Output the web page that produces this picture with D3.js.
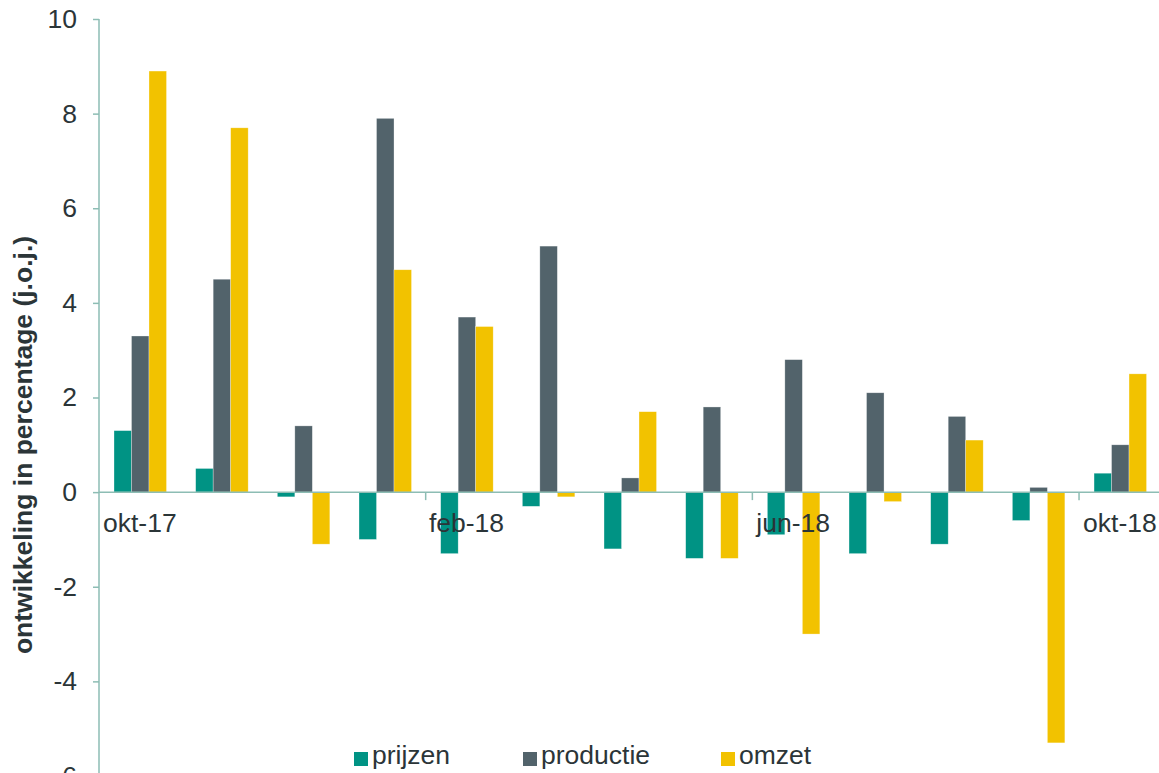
<!DOCTYPE html>
<html lang="nl">
<head>
<meta charset="UTF-8" />
<title>Ontwikkeling prijzen, productie en omzet</title>
<script src="https://cdn.jsdelivr.net/npm/d3@7"></script>
<style>
  body { margin: 0; background: #fff; }
  svg text { font-family: "Liberation Sans", Arial, sans-serif; fill: #2b3538; }
</style>
</head>
<body>
<svg id="chart" width="1159" height="773"></svg>
<script>
// data
let months = ["okt-17", "nov-17", "dec-17", "jan-18", "feb-18", "mrt-18", "apr-18",
  "mei-18", "jun-18", "jul-18", "aug-18", "sep-18", "okt-18"];
let prijzen = [1.3, 0.5, -0.1, -1.0, -1.3, -0.3, -1.2, -1.4, -0.9, -1.3, -1.1, -0.6, 0.4];
let productie = [3.3, 4.5, 1.4, 7.9, 3.7, 5.2, 0.3, 1.8, 2.8, 2.1, 1.6, 0.1, 1.0];
let omzet = [8.9, 7.7, -1.1, 4.7, 3.5, -0.1, 1.7, -1.4, -3.0, -0.2, 1.1, -5.3, 2.5];
let seriesNames = ["prijzen", "productie", "omzet"];
let colors = ["#009384", "#52636b", "#f2c200"];
let yTicks = [-6, -4, -2, 0, 2, 4, 6, 8, 10];
let labelledMonths = ["okt-17", "feb-18", "jun-18", "okt-18"];

let svg = d3.select("#chart");
let axisColor = "#8dbdb4";

let plotLeft = 99, plotTop = 19, plotBottom = 776;
let step = 81.67;

let x0 = d3.scaleBand().domain(months).range([plotLeft, plotLeft + step * months.length]);
let x1 = d3.scaleBand().domain(seriesNames).range([15, 67.5]);
let y = d3.scaleLinear().domain([-6, 10]).range([plotBottom, plotTop]);

let table = months.map(function (m, i) {
  return { month: m, values: [prijzen[i], productie[i], omzet[i]] };
});

// bars
let groups = svg.append("g")
  .selectAll("g")
  .data(table)
  .join("g")
  .attr("transform", d => "translate(" + x0(d.month) + ",0)");

groups.selectAll("rect")
  .data(d => d.values.map((v, j) => ({ name: seriesNames[j], value: v, color: colors[j] })))
  .join("rect")
  .attr("x", d => x1(d.name))
  .attr("width", x1.bandwidth())
  .attr("y", d => y(Math.max(0, d.value)))
  .attr("height", d => Math.abs(y(d.value) - y(0)))
  .attr("fill", d => d.color)
  .attr("stroke", "#ffffff")
  .attr("stroke-opacity", 0.5)
  .attr("stroke-width", 0.6);

// y axis (plain hyphen for negatives, like the original)
let yAxis = svg.append("g")
  .attr("transform", "translate(" + plotLeft + ",0)")
  .call(d3.axisLeft(y).tickValues(yTicks).tickSize(6).tickPadding(16).tickFormat(d => String(d)));
yAxis.select(".domain").attr("stroke", axisColor).attr("stroke-width", 1.5)
  .attr("d", "M0," + plotTop + "V" + 800);
yAxis.selectAll(".tick line").attr("stroke", axisColor).attr("stroke-width", 1.5);
yAxis.selectAll(".tick text")
  .style("font-size", "26.5px")
  .style("font-family", "'Liberation Sans', Arial, sans-serif")
  .attr("fill", "#2b3538");

// zero line with x ticks
let xAxis = svg.append("g").attr("transform", "translate(0," + y(0) + ")");
xAxis.append("line")
  .attr("x1", plotLeft).attr("x2", 1159)
  .attr("stroke", axisColor).attr("stroke-width", 1.5);
xAxis.selectAll(".xtick")
  .data(labelledMonths.slice(1))
  .join("line")
  .attr("class", "xtick")
  .attr("x1", d => x0(d)).attr("x2", d => x0(d))
  .attr("y1", 0).attr("y2", 8)
  .attr("stroke", axisColor).attr("stroke-width", 1.5);
xAxis.selectAll(".xlabel")
  .data(labelledMonths)
  .join("text")
  .attr("class", "xlabel")
  .attr("x", d => x0(d) + x0.bandwidth() / 2)
  .attr("y", 40)
  .attr("text-anchor", "middle")
  .style("font-size", "26.5px")
  .text(d => d);

// y axis title
svg.append("text")
  .attr("transform", "translate(32,445) rotate(-90)")
  .attr("text-anchor", "middle")
  .style("font-size", "26.5px")
  .style("font-weight", "bold")
  .text("ontwikkeling in percentage (j.o.j.)");

// legend
let legendX = [354, 523, 721];
let legend = svg.append("g")
  .selectAll("g")
  .data(seriesNames)
  .join("g")
  .attr("transform", (d, i) => "translate(" + legendX[i] + ",752)");
legend.append("rect")
  .attr("width", 14).attr("height", 14)
  .attr("fill", (d, i) => colors[i]);
legend.append("text")
  .attr("x", 18).attr("y", 12)
  .style("font-size", "26.5px")
  .text(d => d);
</script>
</body>
</html>
